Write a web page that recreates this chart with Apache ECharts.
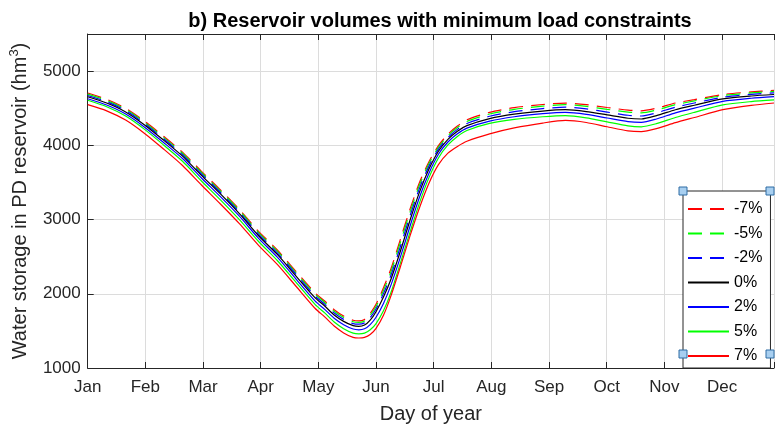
<!DOCTYPE html>
<html>
<head>
<meta charset="utf-8">
<script src="https://cdn.jsdelivr.net/npm/echarts@6/dist/echarts.min.js"></script>
<style>
html,body{margin:0;padding:0;background:#fff;}
#chart{width:777px;height:433px;}
</style>
</head>
<body>
<div id="chart"></div>
<script>
// ---- data ----
const monthLabels = ['Jan','Feb','Mar','Apr','May','Jun','Jul','Aug','Sep','Oct','Nov','Dec'];
const seriesNames = ['-7%','-5%','-2%','0%','2%','5%','7%'];
const days = [0,10,20,30,40,50,60,70,80,90,100,110,120,125,130,135,140,143,146,149,152,156,160,165,170,175,180,185,190,195,200,212,225,240,252,263,274,285,292,300,310,320,335,350,362];
const vMinus7 = [4705,4620,4500,4325,4122,3908,3650,3400,3137,2843,2590,2297,2010,1902,1785,1700,1643,1635,1655,1735,1855,2080,2340,2740,3140,3500,3780,3995,4150,4260,4345,4445,4508,4550,4570,4548,4510,4475,4465,4500,4570,4615,4685,4720,4740];
const vMinus5 = [4690,4605,4485,4310,4107,3893,3635,3385,3122,2828,2574,2280,1992,1883,1765,1680,1623,1615,1634,1710,1825,2045,2300,2700,3100,3465,3755,3975,4130,4240,4322,4422,4485,4528,4548,4525,4485,4448,4438,4475,4548,4598,4670,4706,4726];
const vMinus2 = [4672,4588,4468,4292,4088,3873,3614,3364,3100,2806,2552,2258,1968,1860,1741,1655,1598,1590,1608,1680,1792,2002,2252,2642,3048,3420,3720,3950,4105,4215,4295,4392,4453,4495,4514,4490,4448,4405,4395,4438,4514,4570,4648,4686,4706];
const vZero   = [4655,4570,4450,4275,4070,3855,3595,3345,3080,2785,2530,2235,1945,1835,1715,1628,1570,1560,1578,1645,1755,1955,2200,2580,2990,3370,3680,3920,4080,4190,4265,4360,4420,4462,4480,4455,4410,4365,4355,4400,4480,4540,4625,4665,4685];
const vPlus2  = [4628,4543,4422,4245,4038,3822,3560,3308,3045,2750,2493,2195,1902,1790,1670,1583,1525,1515,1528,1585,1680,1870,2120,2500,2910,3300,3625,3880,4045,4155,4232,4326,4385,4426,4444,4418,4368,4320,4310,4355,4438,4502,4592,4634,4655];
const vPlus5  = [4607,4520,4395,4215,4005,3785,3520,3265,2998,2708,2448,2150,1855,1742,1620,1530,1470,1460,1470,1515,1595,1770,2020,2420,2830,3225,3565,3830,4005,4120,4200,4295,4350,4385,4400,4370,4315,4262,4250,4292,4375,4445,4545,4590,4612];
const vPlus7  = [4548,4465,4340,4160,3950,3728,3465,3210,2945,2655,2395,2098,1802,1688,1565,1473,1412,1404,1412,1450,1530,1710,1975,2370,2780,3160,3490,3740,3895,3985,4055,4155,4235,4300,4335,4308,4250,4195,4185,4225,4305,4375,4480,4538,4570];
const yTicks = [1000,2000,3000,4000,5000];

// ---- chart ----
const allValues = [vMinus7,vMinus5,vMinus2,vZero,vPlus2,vPlus5,vPlus7];
const colors = ['#ff0000','#00ff00','#0000ff','#000000','#0000ff','#00ff00','#ff0000'];
const dashed = [true,true,true,false,false,false,false];
const FONT = "'Liberation Sans', Arial, Helvetica, sans-serif";
const monthStep = 365/12;
const axisColor = '#262626';
const DASH = [14,8];

const series = allValues.map((vals,k)=>({
  name: seriesNames[k],
  type: 'line',
  data: days.map((d,i)=>[d, vals[i]]),
  showSymbol: false,
  symbol: 'none',
  smooth: 0.25,
  lineStyle: {color: colors[k], width: 1.2, type: dashed[k] ? DASH : 'solid'},
  itemStyle: {color: colors[k]},
  emphasis: {disabled: true},
  animation: false,
  z: 2
}));

const legendData = seriesNames.map((n,k)=>({
  name: n,
  itemStyle: {opacity: 0},
  lineStyle: {type: dashed[k] ? DASH : 'solid'}
}));

function handle(cx, cy){
  return {type:'rect', z:100, shape:{x:cx-4, y:cy-4, width:8, height:8},
          style:{fill:'#a8cff0', stroke:'#2e6da4', lineWidth:1}};
}

const chart = echarts.init(document.getElementById('chart'), null, {renderer:'canvas'});
chart.setOption({
  animation: false,
  backgroundColor: '#fff',
  textStyle: {fontFamily: FONT},
  title: {
    text: 'b) Reservoir volumes with minimum load constraints',
    left: 435, top: 6, textAlign: 'center',
    textStyle: {fontFamily: FONT, fontSize: 20, fontWeight: 'bold', color: '#000'}
  },
  grid: {left: 87, top: 34, width: 695, height: 334},
  xAxis: [{
    type: 'value', min: 0, max: 362, interval: monthStep,
    name: 'Day of year', nameLocation: 'middle', nameGap: 36,
    nameTextStyle: {fontFamily: FONT, fontSize: 20, color: axisColor},
    axisLine: {show: true, onZero: false, lineStyle: {color: axisColor, width: 1}},
    axisTick: {show: true, inside: true, length: 6, lineStyle: {color: axisColor}},
    axisLabel: {
      fontFamily: FONT, fontSize: 17, color: axisColor, margin: 11,
      formatter: v => { const i = Math.round(v/monthStep); return (Math.abs(v - i*monthStep) < 0.01 && i < 12) ? monthLabels[i] : ''; }
    },
    splitLine: {show: true, lineStyle: {color: '#dcdcdc', width: 1}}
  },{
    type: 'value', min: 0, max: 362, interval: monthStep, position: 'top',
    axisLine: {show: true, onZero: false, lineStyle: {color: axisColor, width: 1}},
    axisTick: {show: true, inside: true, length: 6, lineStyle: {color: axisColor}},
    axisLabel: {show: false},
    splitLine: {show: false}
  }],
  yAxis: {
    type: 'value', min: 1000, max: 5500, interval: 1000,
    name: 'Water storage in PD reservoir (hm{sup|3})',
    nameLocation: 'middle', nameGap: 42, nameRotate: 90,
    nameTextStyle: {fontFamily: FONT, fontSize: 20, color: axisColor, lineHeight: 24,
      rich: {sup: {fontFamily: FONT, fontSize: 13, color: axisColor, verticalAlign: 'top', lineHeight: 14}}},
    axisLine: {show: true, lineStyle: {color: axisColor, width: 1}},
    axisTick: {show: true, inside: true, length: 6, lineStyle: {color: axisColor}},
    axisLabel: {fontFamily: FONT, fontSize: 17, color: axisColor, margin: 7,
      formatter: v => yTicks.indexOf(v) >= 0 ? String(v) : ''},
    splitLine: {show: true, lineStyle: {color: '#dcdcdc', width: 1}}
  },
  legend: {
    data: legendData,
    orient: 'vertical', left: 683, top: 191,
    padding: [10, 8, 4, 4],
    itemWidth: 41, itemHeight: 14, itemGap: 8.5,
    backgroundColor: '#fff', borderColor: axisColor, borderWidth: 1,
    textStyle: {fontFamily: FONT, fontSize: 16, color: '#000'},
    selectedMode: false
  },
  graphic: [handle(683,191), handle(770,191), handle(683,354), handle(770,354)],
  series: series
});
</script>
</body>
</html>
